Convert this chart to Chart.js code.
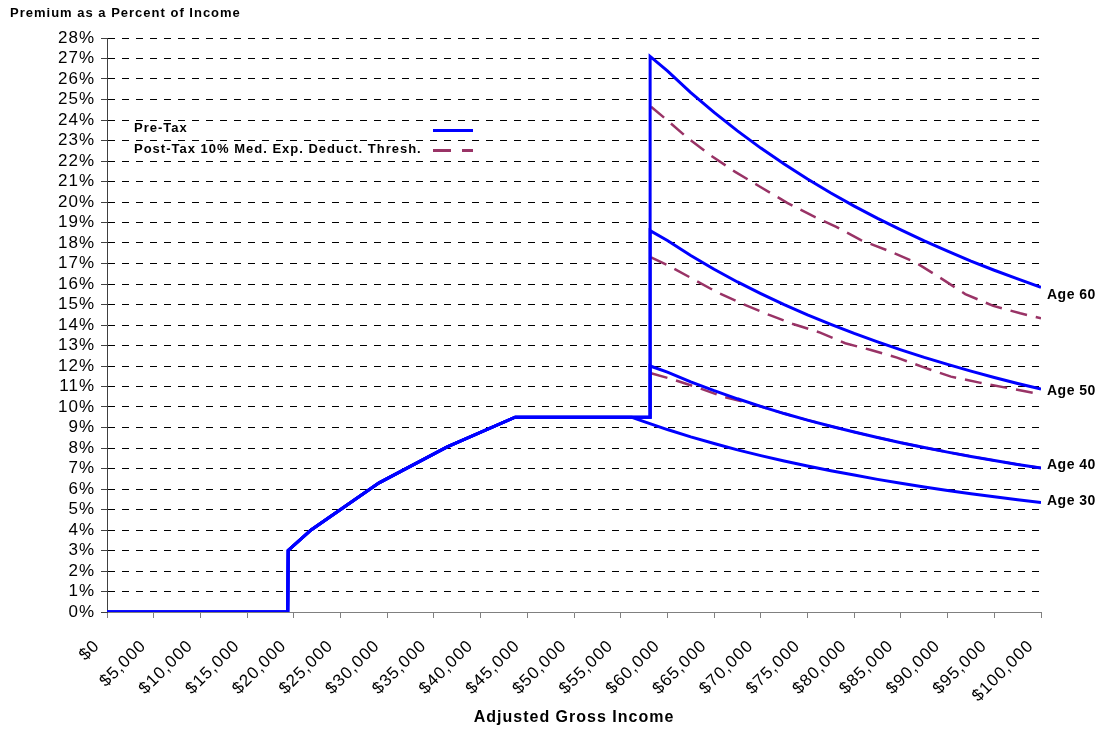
<!DOCTYPE html>
<html>
<head>
<meta charset="utf-8">
<script src="https://cdn.jsdelivr.net/npm/chart.js@4/dist/chart.umd.min.js"></script>
<style>
  html, body { margin: 0; padding: 0; background: #fff; }
  #wrap { width: 1099px; height: 731px; }
</style>
</head>
<body>
<div id="wrap"><canvas id="c" width="1099" height="731"></canvas></div>
<script>
// ---------- data ----------
const chartTitle = 'Premium as a Percent of Income';
const xAxisTitle = 'Adjusted Gross Income';
const seriesNames = ['Pre-Tax', 'Post-Tax 10% Med. Exp. Deduct. Thresh.'];
const ageNames = ['Age 30', 'Age 40', 'Age 50', 'Age 60'];

// shared subsidised part (income $, premium % of income)
const incomeBase = [0, 19350, 19400, 21850, 29130, 36420, 43700];
const pctBase    = [0, 0, 3.0, 4.0, 6.3, 8.05, 9.5];

// Age 30 pre-tax after subsidy phase-out
const age30Income = [56200, 57500, 60000, 62500, 65000, 67500, 70000, 72500, 75000, 77500, 80000, 82500, 85000, 87500, 90000, 92500, 95000, 97500, 100000];
const preAge30    = [9.5, 9.29, 8.90, 8.54, 8.22, 7.91, 7.63, 7.37, 7.12, 6.89, 6.68, 6.47, 6.28, 6.10, 5.93, 5.77, 5.62, 5.48, 5.34];

// Ages 40/50/60 pre-tax: cliff then decline
const cliffIncome = [58150, 58150, 60000, 62500, 65000, 67500, 70000, 72500, 75000, 77500, 80000, 82500, 85000, 87500, 90000, 92500, 95000, 97500, 100000];
const preAge40 = [9.5, 12.0, 11.70, 11.23, 10.80, 10.40, 10.03, 9.68, 9.36, 9.06, 8.78, 8.51, 8.26, 8.02, 7.80, 7.59, 7.39, 7.20, 7.02];
const preAge50 = [9.5, 18.6, 18.12, 17.39, 16.72, 16.10, 15.53, 14.99, 14.49, 14.03, 13.59, 13.18, 12.79, 12.42, 12.08, 11.75, 11.44, 11.15, 10.87];
const preAge60 = [9.5, 27.1, 26.40, 25.34, 24.37, 23.47, 22.63, 21.85, 21.12, 20.44, 19.80, 19.20, 18.64, 18.10, 17.60, 17.12, 16.67, 16.25, 15.84];

// post-tax (10% medical expense deduction threshold)
const postAge40Income = [58250, 60540, 63260, 65900, 68680, 70200, 72500, 75000, 77500, 80000, 82500, 85000, 87500, 90000, 92500, 95000, 97500, 100000];
const postAge40       = [11.65, 11.35, 10.95, 10.51, 10.19, 10.00, 9.68, 9.36, 9.06, 8.78, 8.51, 8.26, 8.02, 7.80, 7.59, 7.39, 7.20, 7.02];
const postAge50Income = [58250, 60190, 62790, 65400, 68150, 70900, 73440, 76360, 79040, 81790, 84580, 87530, 90360, 93420, 96530, 99460, 100000];
const postAge50       = [17.30, 16.88, 16.23, 15.58, 15.01, 14.49, 14.05, 13.63, 13.11, 12.78, 12.41, 11.92, 11.48, 11.19, 10.92, 10.67, 10.65];
const postAge60Income = [58250, 59980, 62230, 64580, 67260, 69830, 72830, 75510, 78080, 80720, 83500, 86540, 89110, 91890, 94890, 97780, 100000];
const postAge60       = [24.65, 23.99, 23.10, 22.29, 21.47, 20.77, 19.96, 19.33, 18.79, 18.14, 17.65, 17.06, 16.33, 15.51, 14.93, 14.57, 14.33];

// axes
const xMin = 0, xMax = 100000, xStep = 5000;
const yMin = 0, yMax = 28, yStep = 1;

// ---------- helpers ----------
const pts = (xs, ys) => xs.map((x, i) => ({ x: x, y: ys[i] }));
const BLUE = '#0000FF';
const MAROON = '#993366';
const FONT = '"Liberation Sans", Arial, sans-serif';

const preSets = [
  pts(incomeBase, pctBase).concat(pts(age30Income, preAge30)),
  pts(incomeBase, pctBase).concat(pts(cliffIncome, preAge40)),
  pts(incomeBase, pctBase).concat(pts(cliffIncome, preAge50)),
  pts(incomeBase, pctBase).concat(pts(cliffIncome, preAge60))
];
const postSets = [
  pts(postAge40Income, postAge40),
  pts(postAge50Income, postAge50),
  pts(postAge60Income, postAge60)
];

const datasets = [];
preSets.forEach((d, i) => datasets.push({
  label: seriesNames[0] + ' ' + ageNames[i], data: d,
  borderColor: BLUE, borderWidth: 3, pointRadius: 0, tension: 0, fill: false
}));
postSets.forEach((d, i) => datasets.push({
  label: seriesNames[1] + ' ' + ageNames[i + 1], data: d,
  borderColor: MAROON, borderWidth: 2.5, borderDash: [17, 9], pointRadius: 0, tension: 0, fill: false
}));

const spacingPlugin = {
  id: 'spacing',
  beforeUpdate(chart) { chart.ctx.letterSpacing = '1px'; },
  beforeDraw(chart) { chart.ctx.letterSpacing = '1px'; }
};

const ageLabelOffsets = [-3, -4, 1, 7]; // pixel nudges for the end labels
const annotPlugin = {
  id: 'annot',
  afterDraw(chart) {
    const ctx = chart.ctx;
    const xs = chart.scales.x, ys = chart.scales.y;
    ctx.save();
    ctx.letterSpacing = '1px';
    ctx.fillStyle = '#000';
    ctx.textBaseline = 'alphabetic';
    ctx.textAlign = 'left';
    // title
    ctx.font = 'bold 13px ' + FONT;
    ctx.fillText(chartTitle, 10, 17);
    // legend
    ctx.fillText(seriesNames[0], 134, 132);
    ctx.fillText(seriesNames[1], 134, 153);
    ctx.lineWidth = 3;
    ctx.strokeStyle = BLUE;
    ctx.beginPath(); ctx.moveTo(433, 130.5); ctx.lineTo(473, 130.5); ctx.stroke();
    ctx.strokeStyle = MAROON;
    ctx.setLineDash([18, 11]);
    ctx.beginPath(); ctx.moveTo(433, 150.5); ctx.lineTo(473, 150.5); ctx.stroke();
    ctx.setLineDash([]);
    // end labels
    ctx.font = 'bold 14px ' + FONT;
    ctx.letterSpacing = '0.5px';
    const ends = [preAge30, preAge40, preAge50, preAge60];
    ends.forEach((arr, i) => {
      const yv = ys.getPixelForValue(arr[arr.length - 1]) + ageLabelOffsets[i];
      ctx.fillText(ageNames[i], xs.getPixelForValue(xMax) + 6, yv + 5);
    });
    ctx.restore();
  }
};

new Chart(document.getElementById('c'), {
  type: 'line',
  data: { datasets: datasets },
  options: {
    responsive: false,
    animation: false,
    events: [],
    layout: { padding: { left: 0, right: 58, top: 38, bottom: 0 } },
    plugins: { legend: { display: false }, tooltip: { enabled: false }, title: { display: false } },
    scales: {
      x: {
        type: 'linear', min: xMin, max: xMax,
        afterFit(s) { s.height = 119; },
        grid: { display: true, drawOnChartArea: false, drawTicks: true, tickLength: 6, tickColor: '#808080', color: '#808080' },
        border: { display: true, color: '#808080', width: 1 },
        ticks: {
          stepSize: xStep, autoSkip: false, maxRotation: 45, minRotation: 45, padding: 18, labelOffset: -10,
          color: '#000', font: { family: FONT, size: 17 },
          callback: (v) => '$' + Number(v).toLocaleString('en-US')
        },
        title: {
          display: true, text: xAxisTitle, color: '#000',
          font: { family: FONT, size: 16, weight: 'bold' },
          padding: { top: 0, bottom: 4 }
        }
      },
      y: {
        min: yMin, max: yMax,
        afterFit(s) { s.width = 107; },
        grid: {
          color: (c) => (c.tick && c.tick.value === 0) ? 'rgba(0,0,0,0)' : '#000',
          lineWidth: 1, drawTicks: true, tickLength: 6, tickColor: '#404040'
        },
        border: { display: true, color: '#404040', width: 1, dash: [7, 7] },
        ticks: {
          stepSize: yStep, autoSkip: false, padding: 6, color: '#000',
          font: { family: FONT, size: 17 },
          callback: (v) => v + '%'
        }
      }
    }
  },
  plugins: [spacingPlugin, annotPlugin]
});
</script>
</body>
</html>
